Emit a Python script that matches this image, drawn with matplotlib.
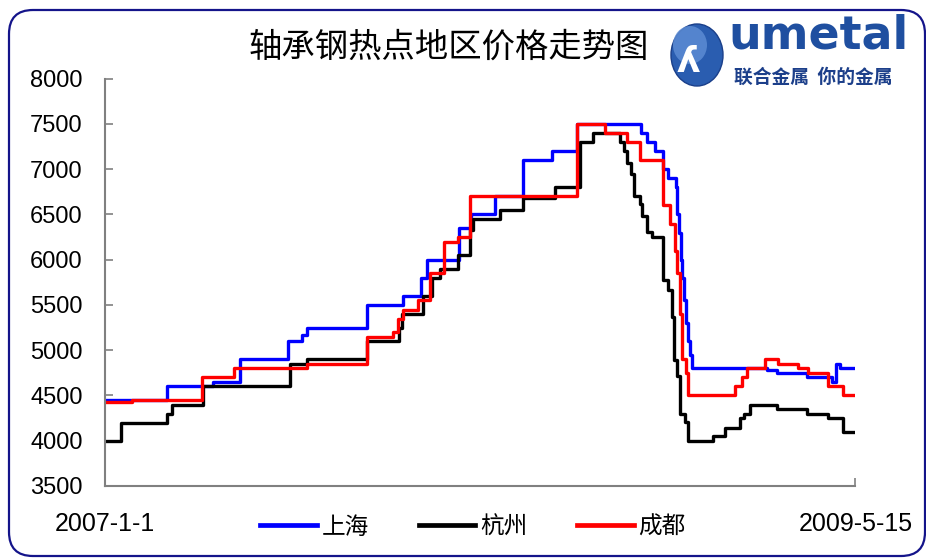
import numpy as np
import pandas as pd
import matplotlib
matplotlib.use("Agg")
from matplotlib import pyplot as plt
from matplotlib import patches
from matplotlib.lines import Line2D
from matplotlib.transforms import IdentityTransform

plt.rcParams['font.family'] = ['Liberation Sans', 'Noto Sans CJK SC', 'DejaVu Sans']

START = pd.Timestamp('2007-01-01')
END = pd.Timestamp('2009-05-15')

# 上海: day offset from 2007-1-1 where each price level starts
sh_days = [0, 72, 125, 156, 211, 227, 233, 302, 344, 364, 371, 408, 422, 450, 482, 516, 544,
           618, 625, 634, 644, 649, 659, 660, 662, 664, 666, 668, 670, 672, 675, 677,
           763, 775, 810, 838, 843, 848]
sh_vals = [4450, 4600, 4650, 4900, 5100, 5170, 5250, 5500, 5600, 5800, 6000, 6350, 6500, 6700, 7100, 7200, 7500,
           7400, 7300, 7200, 7000, 6900, 6800, 6500, 6300, 6000, 5800, 5550, 5300, 5100, 4950, 4800,
           4780, 4750, 4700, 4650, 4850, 4800]

# 杭州
hz_days = [0, 18, 72, 77, 113, 213, 233, 302, 339, 343, 367, 377, 386, 407, 421, 424, 456, 482, 519, 548, 563,
           594, 599, 602, 607, 610, 617, 619, 625, 631, 644, 649, 654, 656, 660, 663, 669, 672,
           701, 715, 732, 737, 744, 775, 810, 834, 851]
hz_vals = [4000, 4200, 4300, 4400, 4600, 4850, 4900, 5100, 5250, 5400, 5600, 5800, 5900, 6050, 6330, 6450, 6550, 6680, 6800, 7300, 7400,
           7300, 7200, 7070, 6950, 6700, 6620, 6480, 6310, 6250, 5780, 5670, 5370, 4890, 4710, 4300, 4210, 4000,
           4050, 4140, 4250, 4300, 4400, 4350, 4300, 4250, 4100]

# 成都
cd_days = [0, 31, 112, 149, 233, 302, 332, 338, 344, 361, 375, 391, 407, 421, 544, 577, 602, 617,
           644, 652, 657, 660, 663, 665, 670, 672, 727, 735, 740, 761, 776, 799, 811, 834, 851]
cd_vals = [4430, 4450, 4700, 4800, 4850, 5150, 5200, 5350, 5450, 5550, 5850, 6200, 6250, 6700, 7500, 7400, 7300, 7100,
           6600, 6400, 6100, 5850, 5400, 4900, 4750, 4500, 4600, 4700, 4800, 4900, 4850, 4800, 4750, 4600, 4500]

series = [('上海', sh_days, sh_vals, '#0000FF'),
          ('杭州', hz_days, hz_vals, '#000000'),
          ('成都', cd_days, cd_vals, '#FF0000')]

total_days = (END - START).days

fig = plt.figure(figsize=(9.26, 5.58), dpi=100)
ax = fig.add_axes([105 / 926, 72 / 558, 750 / 926, 407.25 / 558])

for name, days, vals, color in series:
    d = list(days) + [total_days]
    v = list(vals) + [vals[-1]]
    dates = START + pd.to_timedelta(d, unit='D')
    ax.plot(dates, v, drawstyle='steps-post', color=color, lw=2.4, label=name)

ax.set_xlim(START, END)
ax.set_ylim(3500, 8000)
ax.set_yticks(np.arange(3500, 8001, 500))
ax.set_xticks([START, END])
ax.set_xticklabels([])
for s in ['top', 'right']:
    ax.spines[s].set_visible(False)
for s in ['left', 'bottom']:
    ax.spines[s].set_color('#808080')
    ax.spines[s].set_linewidth(1.5)
ax.tick_params(axis='y', direction='in', length=6, width=1.2, color='#808080',
               pad=16, labelsize=17)
ax.tick_params(axis='x', direction='in', length=6, width=1.2, color='#808080')

fig.text(449 / 926, 1 - 47 / 558, '轴承钢热点地区价格走势图', ha='center', va='center',
         fontsize=24, family=['Noto Sans CJK SC', 'DejaVu Sans'])

fig.text(105 / 926, 1 - 524 / 558, '2007-1-1', ha='center', va='center', fontsize=18)
fig.text(856 / 926, 1 - 524 / 558, '2009-5-15', ha='center', va='center', fontsize=18)

handles = [Line2D([], [], color=c, lw=3.4) for _, _, _, c in series]
fig.legend(handles, [n for n, _, _, _ in series], loc='center', ncol=3,
           bbox_to_anchor=(473 / 926, 1 - 527 / 558), frameon=False,
           prop={'family': ['Noto Sans CJK SC', 'DejaVu Sans'], 'size': 17},
           handlelength=2.4, handletextpad=0.2, columnspacing=2.1)

# rounded frame around the whole picture
frame = patches.FancyBboxPatch((9, 2), 916, 546, boxstyle='round,pad=0,rounding_size=24',
                               transform=IdentityTransform(), fill=False,
                               edgecolor='#14148a', linewidth=1.6)
fig.patches.append(frame)

# logo
globe = patches.Ellipse((697, 558 - 55), 52, 62, transform=IdentityTransform(),
                        facecolor='#2a5db0', edgecolor='#1a3f8a', lw=1)
fig.patches.append(globe)
shine = patches.Ellipse((690, 558 - 45), 34, 38, transform=IdentityTransform(),
                        facecolor='#5f8fd6', edgecolor='none', alpha=0.8)
fig.patches.append(shine)
fig.text(688 / 926, 1 - 62 / 558, 'ʎ', ha='center', va='center', fontsize=26,
         color='white', fontweight='bold', family='DejaVu Sans')
fig.text(728 / 926, 1 - 36 / 558, 'umetal', ha='left', va='center', fontsize=33,
         fontweight='bold', color='#1f4fa0', family='DejaVu Sans')
fig.text(734 / 926, 1 - 77 / 558, '联合金属  你的金属', ha='left', va='center', fontsize=13.5,
         fontweight='bold', color='#1c3f8a', family=['Noto Sans CJK SC', 'DejaVu Sans'])

fig.savefig('out.png', dpi=100)
